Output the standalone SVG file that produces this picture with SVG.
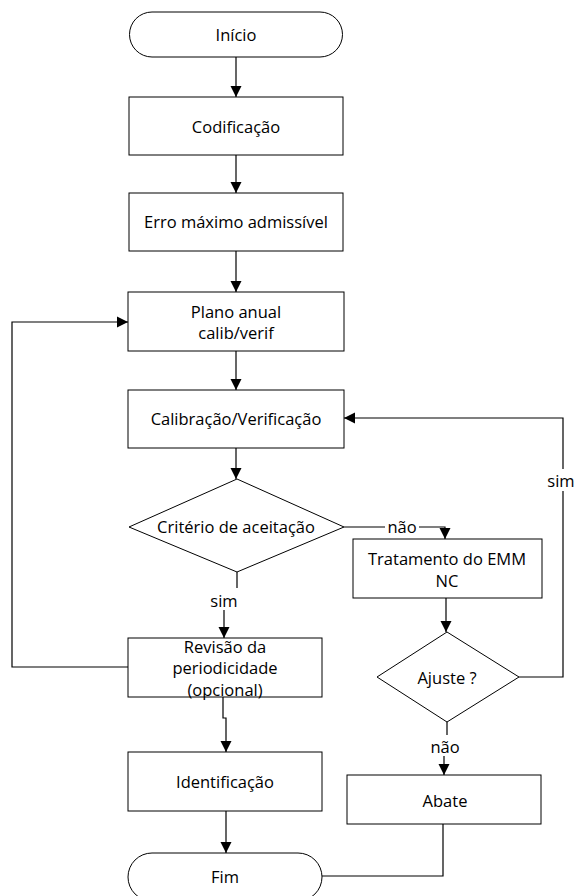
<svg xmlns="http://www.w3.org/2000/svg" width="574" height="896" viewBox="0 0 574 896">
<defs>
<marker id="ah" markerWidth="12" markerHeight="12" refX="11" refY="6" orient="auto" markerUnits="userSpaceOnUse">
<path d="M0,0.5 L11,6 L0,11.5 Z" fill="#000"/>
</marker>
<style>
.n{fill:#fff;stroke:#000;stroke-width:1}
.t{font-family:"Open Sans","DejaVu Sans",sans-serif;font-size:16.5px;fill:#000;text-anchor:middle;dominant-baseline:central}
.c{fill:none;stroke:#000;stroke-width:1.2}
.a{marker-end:url(#ah)}
.bg{fill:#fff;stroke:none}
</style>
</defs>
<rect width="574" height="896" fill="#fff"/>
<g id="connectors">
<path class="c a" d="M236,57 V97"/>
<path class="c a" d="M236,155 V193"/>
<path class="c a" d="M236,251 V292"/>
<path class="c a" d="M236,351 V390"/>
<path class="c a" d="M236,448 V479"/>
<path class="c a" d="M344,527 H445 V539"/>
<path class="c a" d="M237,572 V599 H224 V638"/>
<path class="c a" d="M128,667 H12 V322 H128"/>
<path class="c a" d="M446,598 V632"/>
<path class="c a" d="M519,677 H563 V418 H344"/>
<path class="c a" d="M447,722 V746 H444 V775"/>
<path class="c a" d="M223,697 V718 H226 V752"/>
<path class="c a" d="M226,811 V853"/>
<path class="c" d="M322,876 H443 V824"/>
<rect class="bg" x="385" y="517" width="34" height="19"/>
<text class="t" x="402" y="526">não</text>
<rect class="bg" x="207" y="588" width="34" height="22"/>
<text class="t" x="224" y="600">sim</text>
<rect class="bg" x="547" y="469" width="27" height="22"/>
<text class="t" x="561" y="480">sim</text>
<rect class="bg" x="428" y="735" width="34" height="21"/>
<text class="t" x="445" y="746">não</text>
</g>
<g id="inicio">
<path class="n" d="M152,12 H320 A22.5,22.5 0 0 1 320,57 H152 A22.5,22.5 0 0 1 152,12 Z"/>
<text class="t" x="236" y="34">Início</text>
</g>
<g id="codificacao">
<rect class="n" x="129" y="97" width="214" height="58"/>
<text class="t" x="236" y="126">Codificação</text>
</g>
<g id="erro">
<rect class="n" x="129" y="193" width="214" height="58"/>
<text class="t" x="236" y="221">Erro máximo admissível</text>
</g>
<g id="plano">
<rect class="n" x="128" y="292" width="216" height="59"/>
<text class="t" x="236" y="311">Plano anual</text>
<text class="t" x="236" y="332">calib/verif</text>
</g>
<g id="calibracao">
<rect class="n" x="128" y="390" width="216" height="58"/>
<text class="t" x="236" y="418">Calibração/Verificação</text>
</g>
<g id="criterio">
<path class="n" d="M237,479 L344,527 L237,572 L129,527 Z"/>
<text class="t" x="236" y="526">Critério de aceitação</text>
</g>
<g id="tratamento">
<rect class="n" x="353" y="539" width="189" height="59"/>
<text class="t" x="447" y="558">Tratamento do EMM</text>
<text class="t" x="447" y="580">NC</text>
</g>
<g id="ajuste">
<path class="n" d="M447,632 L519,677 L447,722 L377,677 Z"/>
<text class="t" x="447" y="677">Ajuste ?</text>
</g>
<g id="revisao">
<rect class="n" x="128" y="638" width="194" height="59"/>
<text class="t" x="225" y="646">Revisão da</text>
<text class="t" x="225" y="667">periodicidade</text>
<text class="t" x="225" y="689">(opcional)</text>
</g>
<g id="identificacao">
<rect class="n" x="128" y="752" width="194" height="59"/>
<text class="t" x="225" y="781">Identificação</text>
</g>
<g id="abate">
<rect class="n" x="347" y="775" width="194" height="49"/>
<text class="t" x="445" y="800">Abate</text>
</g>
<g id="fim">
<path class="n" d="M152,853 H298 A24,24 0 0 1 298,901 H152 A24,24 0 0 1 152,853 Z"/>
<text class="t" x="225" y="876">Fim</text>
</g>
</svg>
